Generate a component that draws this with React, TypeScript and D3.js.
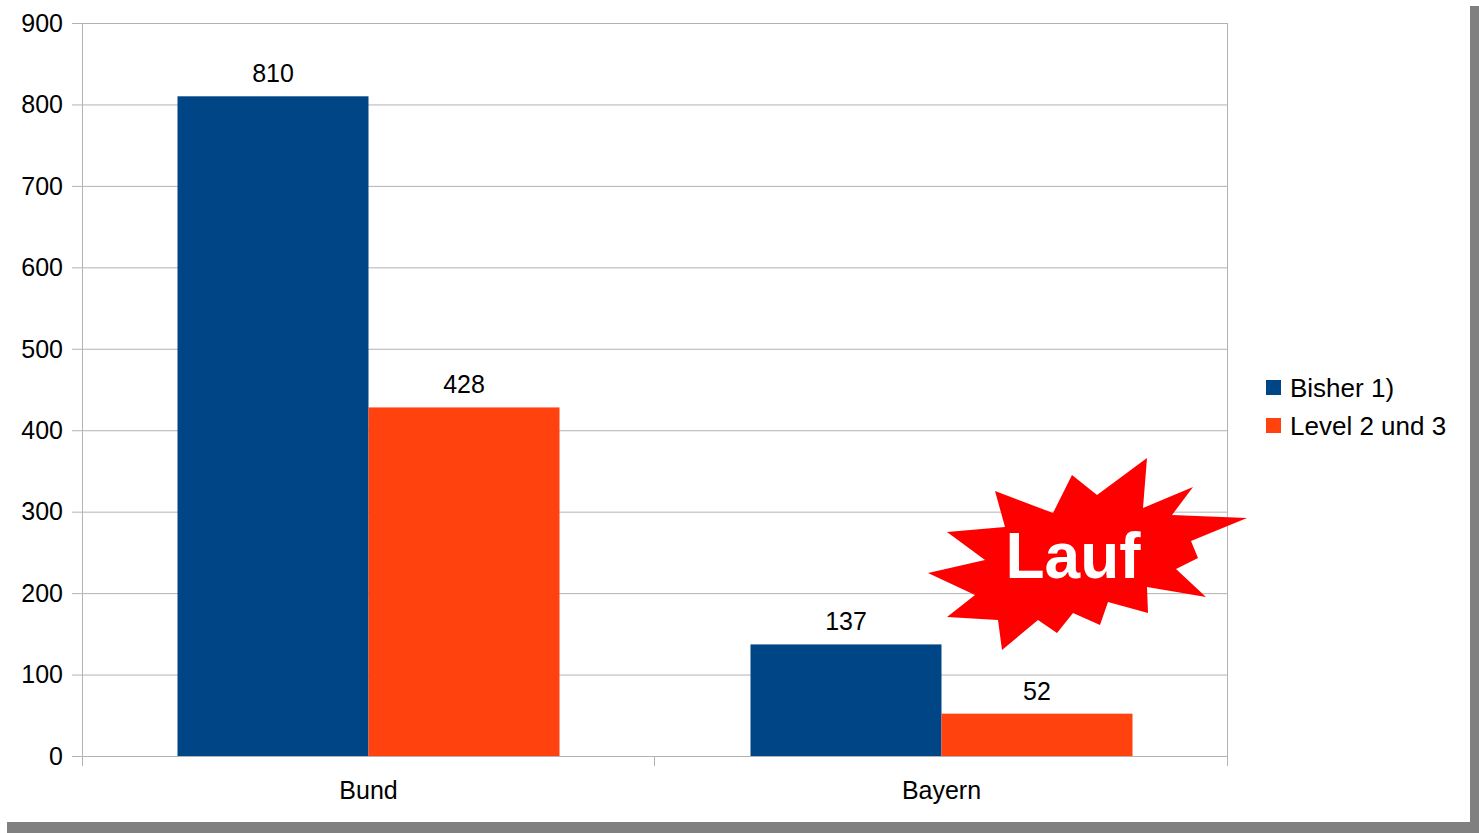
import React, { useEffect, useRef } from "react";
import * as d3 from "d3";

const categories = ["Bund", "Bayern"];
const seriesNames = ["Bisher 1)", "Level 2 und 3"];
const bisher = [810, 137];
const level23 = [428, 52];
const yTicks = [0, 100, 200, 300, 400, 500, 600, 700, 800, 900];
const stampText = "Lauf";

const colors = ["#004586", "#ff420e"];

// starburst outline, in px around the stamp
const burst: [number, number][] = [
  [1147, 458], [1143, 508], [1193, 487], [1172, 515], [1247, 518],
  [1191, 541], [1198, 558], [1176, 569], [1206, 597], [1147, 587],
  [1148, 613], [1108, 602], [1100, 625], [1073, 613], [1057, 633],
  [1038, 620], [1002, 650], [998, 620], [947, 617], [975, 595],
  [928, 573], [985, 560], [947, 532], [1005, 527], [995, 491],
  [1053, 513], [1072, 475], [1097, 495],
];

const App = () => {
  const svgRef = useRef<SVGSVGElement>(null);

  useEffect(() => {
    const width = 1479;
    const height = 833;
    const margin = { top: 23, right: 251, bottom: 77, left: 82 };
    const plotW = width - margin.left - margin.right;

    const svg = d3.select(svgRef.current).attr("width", width).attr("height", height);
    svg.selectAll("*").remove();

    // page card + shadow
    svg.append("rect").attr("width", width).attr("height", height).attr("fill", "#fff");
    svg.append("rect").attr("x", 1470).attr("y", 6).attr("width", 9).attr("height", height - 6).attr("fill", "#808080");
    svg.append("rect").attr("x", 7).attr("y", 822).attr("width", width - 7).attr("height", 11).attr("fill", "#808080");

    const x = d3
      .scaleBand()
      .domain(categories)
      .range([margin.left, margin.left + plotW])
      .padding(0);

    const inner = d3
      .scaleBand()
      .domain(seriesNames)
      .range([0, x.bandwidth()])
      .paddingOuter(0.5)
      .paddingInner(0);

    const y = d3
      .scaleLinear()
      .domain([0, 900])
      .range([height - margin.bottom, margin.top]);

    const font = "'Liberation Sans', Arial, sans-serif";
    const fs = 25;
    const grid = "#b3b3b3";

    // horizontal grid
    svg
      .append("g")
      .selectAll("line")
      .data(yTicks)
      .enter()
      .append("line")
      .attr("x1", margin.left - 10)
      .attr("x2", margin.left + plotW)
      .attr("y1", (d) => y(d) + 0.5)
      .attr("y2", (d) => y(d) + 0.5)
      .attr("stroke", grid);

    // vertical frame lines / category ticks
    const xEdges = [margin.left, margin.left + x.bandwidth(), margin.left + plotW];
    svg
      .append("g")
      .selectAll("line")
      .data(xEdges)
      .enter()
      .append("line")
      .attr("x1", (d, i) => (i === 0 ? d + 0.5 : d - 0.5))
      .attr("x2", (d, i) => (i === 0 ? d + 0.5 : d - 0.5))
      .attr("y1", (d, i) => (i === 1 ? y(0) : margin.top))
      .attr("y2", y(0) + 10)
      .attr("stroke", grid);

    // y tick labels
    svg
      .append("g")
      .selectAll("text")
      .data(yTicks)
      .enter()
      .append("text")
      .attr("x", 63)
      .attr("y", (d) => y(d))
      .attr("dy", "0.35em")
      .attr("text-anchor", "end")
      .attr("font-family", font)
      .attr("font-size", fs)
      .attr("fill", "#000")
      .text((d) => d);

    // category labels
    svg
      .append("g")
      .selectAll("text")
      .data(categories)
      .enter()
      .append("text")
      .attr("x", (d) => (x(d) as number) + x.bandwidth() / 2)
      .attr("y", 790)
      .attr("dy", "0.35em")
      .attr("text-anchor", "middle")
      .attr("font-family", font)
      .attr("font-size", fs)
      .attr("fill", "#000")
      .text((d) => d);

    // bars
    const series = [bisher, level23];
    series.forEach((vals, si) => {
      const rows = categories.map((c, ci) => ({ c, v: vals[ci] }));
      const g = svg.append("g");
      g.selectAll("rect")
        .data(rows)
        .enter()
        .append("rect")
        .attr("x", (d) => (x(d.c) as number) + (inner(seriesNames[si]) as number))
        .attr("width", inner.bandwidth())
        .attr("y", (d) => y(d.v))
        .attr("height", (d) => y(0) - y(d.v))
        .attr("fill", colors[si]);
      g.selectAll("text")
        .data(rows)
        .enter()
        .append("text")
        .attr("x", (d) => (x(d.c) as number) + (inner(seriesNames[si]) as number) + inner.bandwidth() / 2)
        .attr("y", (d) => y(d.v) - 14)
        .attr("text-anchor", "middle")
        .attr("font-family", font)
        .attr("font-size", fs)
        .attr("fill", "#000")
        .text((d) => d.v);
    });

    // legend
    const legend = svg
      .append("g")
      .selectAll("g")
      .data(seriesNames)
      .enter()
      .append("g")
      .attr("transform", (d, i) => `translate(1266,${388 + i * 38})`);
    legend
      .append("rect")
      .attr("y", -8)
      .attr("width", 15)
      .attr("height", 15)
      .attr("fill", (d, i) => colors[i]);
    legend
      .append("text")
      .attr("x", 24)
      .attr("dy", "0.35em")
      .attr("font-family", font)
      .attr("font-size", 26)
      .attr("fill", "#000")
      .text((d) => d);

    // starburst annotation
    svg
      .append("path")
      .attr("d", d3.line()(burst) + "Z")
      .attr("fill", "#ff0000");
    svg
      .append("text")
      .attr("x", 1073)
      .attr("y", 578)
      .attr("text-anchor", "middle")
      .attr("font-family", font)
      .attr("font-weight", "bold")
      .attr("font-size", 64)
      .attr("fill", "#fff")
      .text(stampText);
  }, []);

  return (
    <div style={{ position: "absolute", left: 0, top: 0 }}>
      <svg ref={svgRef} style={{ display: "block" }} />
    </div>
  );
};

export default App;
